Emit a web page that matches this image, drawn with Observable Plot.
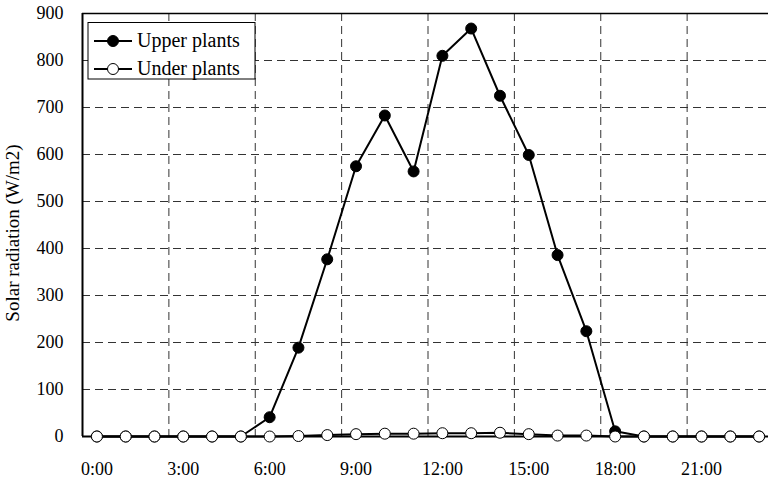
<!DOCTYPE html>
<html>
<head>
<meta charset="utf-8">
<script src="https://cdn.jsdelivr.net/npm/d3@7"></script>
<script src="https://cdn.jsdelivr.net/npm/@observablehq/plot@0.6"></script>
<style>
  html, body { margin: 0; padding: 0; background: #fff; }
  #chart { width: 768px; height: 480px; }
</style>
</head>
<body>
<div id="chart"></div>
<script>
// ---- data ----
const hours = [0,1,2,3,4,5,6,7,8,9,10,11,12,13,14,15,16,17,18,19,20,21,22,23];
const upperPlants = [0,0,0,0,0,0,41,189,377,575,683,564,810,868,725,599,386,224,11,0,0,0,0,0];
const underPlants = [0,0,0,0,0,0,0,1,3,5,6,6,7,7,8,5,2,2,0,0,0,0,0,0];
const xTicks = [0,3,6,9,12,15,18,21];
const xTickLabels = ["0:00","3:00","6:00","9:00","12:00","15:00","18:00","21:00"];
const yTicks = [0,100,200,300,400,500,600,700,800,900];
const yGrid = [100,200,300,400,500,600,700,800];
const xGrid = [2.5,5.5,8.5,11.5,14.5,17.5,20.5];
const seriesNames = ["Upper plants","Under plants"];
const yLabel = "Solar radiation (W/m2)";

const upperData = hours.map((h, i) => ({hour: h, value: upperPlants[i]}));
const underData = hours.map((h, i) => ({hour: h, value: underPlants[i]}));

const font = "'Liberation Serif', 'Times New Roman', serif";
const dash = "8,5";

const chart = Plot.plot({
  width: 768,
  height: 480,
  marginLeft: 82,
  marginRight: 0,
  marginTop: 13,
  marginBottom: 44,
  style: {fontFamily: font, background: "#fff", color: "#000", overflow: "hidden"},
  x: {domain: [-0.5, 23.5], range: [82, 773]},
  y: {domain: [0, 900], range: [436, 13]},
  marks: [
    Plot.ruleY(yGrid, {stroke: "#333", strokeWidth: 1, strokeDasharray: dash}),
    Plot.ruleX(xGrid, {stroke: "#333", strokeWidth: 1, strokeDasharray: dash}),
    Plot.ruleY([900], {stroke: "#000", strokeWidth: 1.5}),
    Plot.ruleY([0], {stroke: "#000", strokeWidth: 2}),
    Plot.ruleX([-0.5], {stroke: "#000", strokeWidth: 2}),
    Plot.axisY({ticks: yTicks, tickSize: 0, tickPadding: 19, fontSize: 18, label: null}),
    Plot.axisX({ticks: xTicks, tickSize: 0, tickPadding: 26, fontSize: 18, label: null,
      tickFormat: d => xTickLabels[xTicks.indexOf(d)]}),
    Plot.text([yLabel], {frameAnchor: "left", dx: -70, dy: 8, rotate: -90, fontSize: 19,
      textAnchor: "middle", lineAnchor: "middle", fill: "#000"}),
    Plot.line(upperData, {x: "hour", y: "value", stroke: "#000", strokeWidth: 2}),
    Plot.dot(upperData, {x: "hour", y: "value", r: 5.5, fill: "#000", stroke: "#000", strokeWidth: 1}),
    Plot.line(underData, {x: "hour", y: "value", stroke: "#000", strokeWidth: 2}),
    Plot.dot(underData, {x: "hour", y: "value", r: 5.5, fill: "#fff", stroke: "#000", strokeWidth: 1})
  ]
});

document.getElementById("chart").appendChild(chart);

// ---- legend (inside the plot frame, top-left) ----
const svg = d3.select(chart);
const lg = svg.append("g").attr("font-family", font).attr("font-size", 20).attr("text-anchor", "start");
lg.append("rect").attr("x", 88).attr("y", 22.5).attr("width", 167).attr("height", 56.5)
  .attr("fill", "#fff").attr("stroke", "#000").attr("stroke-width", 1);
const rows = [{name: seriesNames[0], fill: "#000", y: 41}, {name: seriesNames[1], fill: "#fff", y: 69}];
rows.forEach(r => {
  lg.append("line").attr("x1", 94).attr("x2", 132).attr("y1", r.y).attr("y2", r.y)
    .attr("stroke", "#000").attr("stroke-width", 2);
  lg.append("circle").attr("cx", 113).attr("cy", r.y).attr("r", 5.5)
    .attr("fill", r.fill).attr("stroke", "#000").attr("stroke-width", 1);
  lg.append("text").attr("x", 137).attr("y", r.y).attr("dy", "0.32em")
    .attr("text-anchor", "start").attr("fill", "#000").text(r.name);
});
</script>
</body>
</html>
